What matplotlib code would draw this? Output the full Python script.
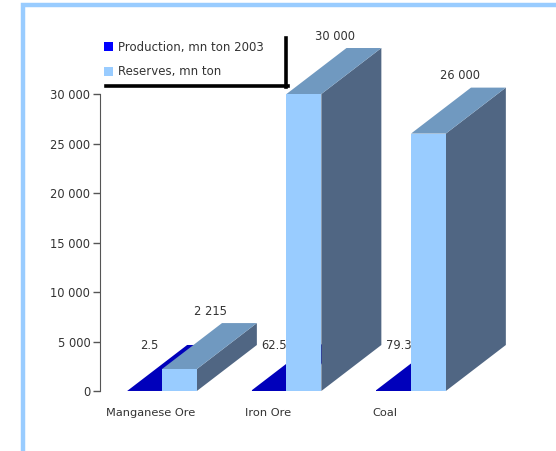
import matplotlib
matplotlib.use('Agg')
import matplotlib.pyplot as plt
from matplotlib.patches import Polygon, Patch, Rectangle
from matplotlib.lines import Line2D
from matplotlib.ticker import FuncFormatter
import numpy as np

categories = ['Manganese Ore', 'Iron Ore', 'Coal']
production = [2.5, 62.5, 79.3]
reserves = [2215, 30000, 26000]
series_names = ['Production, mn ton 2003', 'Reserves, mn ton']

prod_front = '#0000bb'
prod_swatch = '#0000ff'
res_front = '#99ccff'
res_top = '#7099c0'
res_side = '#506683'
text_col = '#333333'

W, H = 556, 451
fig = plt.figure(figsize=(W / 100, H / 100), dpi=100)

# light blue frame (left + top)
fig.add_artist(Rectangle((22.5 / W, -0.1), 1.2, 1.1 - 5 / H, transform=fig.transFigure,
                         fill=False, edgecolor='#99ccff', linewidth=3.2))

ax = fig.add_axes([100 / W, 60 / H, 430 / W, 361 / H])
ax.set_xlim(-0.498, 2.956)
ax.set_ylim(0, 36465)

w = 0.28          # bar width (x units)
dx = 0.482        # depth offset in x units
dy = 4646         # depth offset in y units

x = np.arange(len(categories))


def bar3d(xc, v, front, top, side):
    x0, x1 = xc - w / 2, xc + w / 2
    ax.add_patch(Polygon([(x1, 0), (x1 + dx, dy), (x1 + dx, v + dy), (x1, v)],
                         closed=True, facecolor=side, edgecolor='none', clip_on=False))
    ax.add_patch(Polygon([(x0, v), (x1, v), (x1 + dx, v + dy), (x0 + dx, v + dy)],
                         closed=True, facecolor=top, edgecolor='none', clip_on=False))
    ax.bar(xc, v, width=w, color=front, linewidth=0, clip_on=False)


for i in range(len(categories)):
    bar3d(x[i] - w / 2, production[i], prod_front, prod_front, prod_front)
    bar3d(x[i] + w / 2, reserves[i], res_front, res_top, res_side)

# value labels
for i in range(len(categories)):
    ax.text(x[i] - 0.1, production[i] + dy - 100, '{:g}'.format(production[i]),
            ha='center', va='center', fontsize=8.3, color=text_col)
    ax.text(x[i] + w / 2 + 0.25, reserves[i] + dy + 1200,
            '{:,}'.format(reserves[i]).replace(',', ' '),
            ha='center', va='center', fontsize=8.3, color=text_col)

ax.set_yticks(np.arange(0, 30001, 5000))
ax.yaxis.set_major_formatter(FuncFormatter(lambda v, p: '{:,.0f}'.format(v).replace(',', ' ')))
ax.set_xticks(x * 0.94 - 0.09)
ax.set_xticklabels(categories)
ax.tick_params(axis='x', length=0, pad=12, labelsize=8.2, labelcolor=text_col)
ax.tick_params(axis='y', length=5, width=1, color='#555555', labelsize=8.3,
               labelcolor=text_col, pad=2)

for s in ['top', 'right', 'bottom']:
    ax.spines[s].set_visible(False)
ax.spines['left'].set_bounds(0, 30000)
ax.spines['left'].set_color('#555555')

# legend
handles = [Patch(facecolor=prod_swatch, edgecolor='none'),
           Patch(facecolor=res_front, edgecolor='none')]
ax.legend(handles, series_names, loc='upper left', frameon=False,
          bbox_to_anchor=(104 / W, 1 - 41 / H), bbox_transform=fig.transFigure,
          fontsize=8.5, handlelength=0.8, handleheight=0.8, handletextpad=0.35,
          labelspacing=0.95, borderpad=0, borderaxespad=0, labelcolor=text_col)
fig.add_artist(Line2D([286 / W, 286 / W], [1 - 38 / H, 1 - 87 / H],
                      transform=fig.transFigure, color='black', linewidth=2.6))
fig.add_artist(Line2D([106 / W, 287.5 / W], [1 - 86 / H, 1 - 86 / H],
                      transform=fig.transFigure, color='black', linewidth=2.6))

plt.savefig('out.png', dpi=100)
